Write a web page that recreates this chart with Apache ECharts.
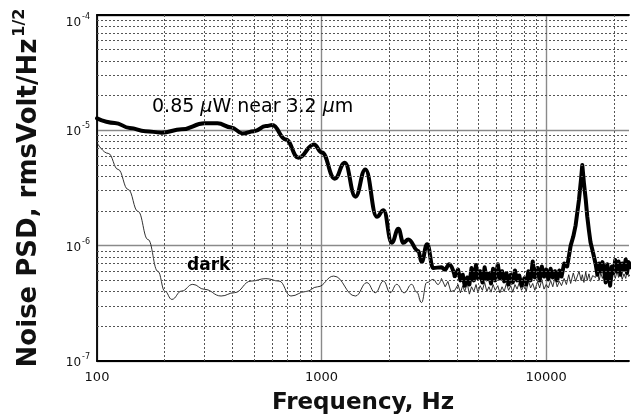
<!DOCTYPE html>
<html><head><meta charset="utf-8">
<script src="https://cdn.jsdelivr.net/npm/echarts@6/dist/echarts.min.js"></script>
<style>html,body{margin:0;padding:0;background:#fff}#c{width:632px;height:420px}</style>
</head><body><div id="c"></div>
<script>
// ---- data ----
const brightFreq = [100,120,140,164,194,238,301,344,396,444,501,565,603,693,788,925,1003,1145,1268,1414,1566,1762,1887,2053,2198,2312,2432,2695,2787,2950,3141,3418,3538,3700,3917,4050,4150,4250,4336,4450,4550,4650,4760,4870,4966,5080,5200,5320,5440,5560,5680,5800,5930,6088,6220,6360,6500,6650,6800,6950,7100,7260,7420,7590,7760,7991,8150,8330,8520,8710,8900,9153,9350,9560,9780,10000,10230,10460,10700,10940,11190,11440,11700,12015,12400,12850,13200,13520,13996,14300,14476,14720,15000,15230,15500,15750,16100,16580,16900,17200,17500,17800,18057,18400,18700,19000,19260,19600,19950,20300,20680,21000,21400,21800,22200,22600,22900,23300,23780];
const brightPSD = [1.27e-5,1.16e-5,1.05e-5,9.84e-6,9.55e-6,1.02e-5,1.15e-5,1.15e-5,1.06e-5,9.4e-6,9.84e-6,1.09e-5,1.11e-5,8.34e-6,5.79e-6,7.55e-6,6.43e-6,3.81e-6,5.24e-6,2.66e-6,4.58e-6,1.78e-6,2.03e-6,1.06e-6,1.40e-6,1.06e-6,1.13e-6,9.0e-7,7.2e-7,1.03e-6,6.4e-7,6.5e-7,6.2e-7,6.9e-7,5.45e-7,6.2e-7,5.0e-7,5.6e-7,4.5e-7,5.3e-7,4.6e-7,6.4e-7,5.0e-7,6.8e-7,5.2e-7,6.0e-7,4.8e-7,6.5e-7,5.1e-7,5.7e-7,4.7e-7,6.3e-7,5.0e-7,6.9e-7,5.2e-7,6.0e-7,4.9e-7,5.8e-7,4.6e-7,5.6e-7,4.8e-7,6.1e-7,5.0e-7,5.5e-7,4.5e-7,5.2e-7,4.6e-7,6.0e-7,5.0e-7,7.3e-7,5.3e-7,6.4e-7,5.0e-7,6.6e-7,5.4e-7,6.2e-7,5.1e-7,6.3e-7,5.3e-7,6.0e-7,5.0e-7,6.1e-7,5.4e-7,7.0e-7,6.6e-7,1.0e-6,1.2e-6,1.5e-6,2.5e-6,3.8e-6,5.0e-6,3.5e-6,2.5e-6,1.8e-6,1.35e-6,1.07e-6,9.0e-7,7.0e-7,5.6e-7,7.0e-7,6.0e-7,7.2e-7,6.3e-7,4.8e-7,6.9e-7,5.5e-7,4.5e-7,6.6e-7,5.8e-7,7.5e-7,6.0e-7,7.3e-7,5.6e-7,7.0e-7,6.2e-7,7.6e-7,5.8e-7,7.2e-7,6.5e-7];

const darkFreq = [100,112.2,124.2,137.6,152.3,168.7,186.7,200.5,215.4,238,267,301,357,409,485,565,647,730,849,960,1133,1414,1591,1734,1887,2020,2160,2330,2518,2650,2787,2934,3141,3300,3418,3550,3650,3760,3917,4050,4150,4250,4336,4450,4550,4650,4760,4870,4966,5080,5200,5320,5440,5560,5680,5800,5930,6088,6220,6360,6500,6650,6800,6950,7100,7260,7420,7590,7760,7991,8150,8330,8520,8710,8900,9153,9350,9560,9780,10000,10230,10460,10700,10940,11190,11440,11700,12015,12300,12600,12850,13200,13520,13996,14300,14476,14720,15000,15230,15500,15750,16100,16580,16900,17200,17500,17800,18057,18400,18700,19000,19260,19600,19950,20300,20680,21000,21400,21800,22200,22600,22900,23300,23780];
const darkPSD = [7.8e-6,6.31e-6,4.58e-6,3.07e-6,1.98e-6,1.13e-6,5.99e-7,4.02e-7,3.42e-7,4.04e-7,4.62e-7,4.18e-7,3.66e-7,3.91e-7,4.93e-7,5.18e-7,4.93e-7,3.66e-7,4.0e-7,4.4e-7,5.45e-7,3.66e-7,4.78e-7,3.91e-7,4.93e-7,3.91e-7,4.62e-7,3.9e-7,4.62e-7,3.96e-7,3.21e-7,4.78e-7,5.1e-7,4.6e-7,5.2e-7,4.4e-7,4.9e-7,4.0e-7,4.1e-7,4.6e-7,3.9e-7,4.5e-7,4.0e-7,4.7e-7,3.8e-7,4.4e-7,4.0e-7,4.6e-7,3.9e-7,4.5e-7,4.1e-7,4.8e-7,4.0e-7,4.4e-7,3.95e-7,4.6e-7,4.1e-7,4.5e-7,3.9e-7,4.4e-7,4.0e-7,4.7e-7,4.1e-7,4.5e-7,3.95e-7,4.6e-7,4.2e-7,4.8e-7,4.1e-7,4.6e-7,4.0e-7,5.0e-7,4.3e-7,4.7e-7,4.1e-7,4.9e-7,4.3e-7,5.1e-7,4.2e-7,4.6e-7,4.3e-7,5.0e-7,4.4e-7,5.3e-7,4.4e-7,4.9e-7,4.5e-7,5.2e-7,4.6e-7,5.6e-7,4.7e-7,5.8e-7,4.9e-7,6.0e-7,5.0e-7,5.6e-7,4.8e-7,5.9e-7,5.0e-7,5.7e-7,4.9e-7,5.5e-7,5.3e-7,6.0e-7,5.0e-7,5.8e-7,5.2e-7,5.7e-7,4.9e-7,5.9e-7,5.1e-7,5.5e-7,4.9e-7,5.8e-7,5.2e-7,6.0e-7,5.3e-7,5.9e-7,5.1e-7,5.7e-7,5.2e-7,6.0e-7,5.4e-7,5.7e-7];

const xTickLabels = ['100', '1000', '10000'];
const yTickExponents = [-7, -6, -5, -4];
const xAxisTitle = 'Frequency, Hz';
const yAxisTitle = 'Noise PSD, rmsVolt/Hz';
const yAxisTitleSup = '1/2';
const brightLabel = ['0.85 ', 'μ', 'W near 3.2 ', 'μ', 'm'];
const darkLabel = 'dark';

// ---- chart ----
const FF = 'DejaVu Sans';
const xMin = 100, xMax = 23370, yMin = 1e-7, yMax = 1e-4;
const zip = (a, b) => a.map((v, i) => [v, b[i]]);
const bright = zip(brightFreq, brightPSD);
const dark = zip(darkFreq, darkPSD);
const brightSplit = 3917, darkSplit = 3418;

const minorX = [];
for (let d = 100; d <= 10000; d *= 10) for (let k = 2; k <= 9; k++) if (d * k < xMax) minorX.push(d * k);
const minorY = [];
for (let e = -7; e <= -5; e++) for (let k = 2; k <= 9; k++) minorY.push(k * Math.pow(10, e));
const gridLines = minorX.map(v => ({xAxis: v}))
  .concat(minorY.map(v => [{coord: [xMin, v]}, {coord: [xMax, v]}]));

const thinStyle = {color: '#1a1a1a', width: 0.9};
const thickStyle = {color: '#000', width: 4, join: 'round', cap: 'round'};
const axisLineStyle = {show: true, lineStyle: {color: '#000', width: 1.8}};

const chart = echarts.init(document.getElementById('c'), null, {renderer: 'canvas'});
chart.setOption({
  animation: false,
  backgroundColor: '#fff',
  grid: {left: 97, top: 15, right: 0, bottom: 58, show: false},
  xAxis: [{
    type: 'log', logBase: 10, min: xMin, max: xMax,
    name: xAxisTitle, nameLocation: 'middle', nameGap: 31,
    nameTextStyle: {fontFamily: FF, fontSize: 23, fontWeight: 'bold', color: '#111'},
    axisLine: axisLineStyle,
    axisTick: {show: false},
    axisLabel: {
      margin: 10, color: '#111', fontFamily: FF, fontSize: 13,
      formatter: v => { const s = String(Math.round(v)); return xTickLabels.indexOf(s) >= 0 ? s : ''; }
    },
    splitLine: {show: true, showMaxLine: false, lineStyle: {color: '#8a8a8a', width: 1.4}}
  }, {
    type: 'log', logBase: 10, min: xMin, max: xMax, position: 'top',
    axisLine: axisLineStyle, axisTick: {show: false}, axisLabel: {show: false}, splitLine: {show: false}
  }],
  yAxis: {
    type: 'log', logBase: 10, min: yMin, max: yMax,
    name: yAxisTitle + '{s|' + yAxisTitleSup + '}', nameLocation: 'middle', nameGap: 50, nameRotate: 90,
    nameTextStyle: {fontFamily: FF, fontSize: 26, fontWeight: 'bold', color: '#111',
      rich: {s: {fontFamily: FF, fontSize: 16, fontWeight: 'bold', color: '#111', padding: [0, 0, 19, 2], verticalAlign: 'bottom'}}},
    axisLine: axisLineStyle,
    axisTick: {show: false},
    axisLabel: {
      margin: 7,
      formatter: v => {
        const e = Math.round(Math.log10(v));
        if (yTickExponents.indexOf(e) < 0) return '';
        return e === yTickExponents[yTickExponents.length - 1] ? '{bt|10}{st|' + e + '}' : '{b|10}{s|' + e + '}';
      },
      rich: {
        b: {fontFamily: FF, fontSize: 12, color: '#111', verticalAlign: 'bottom'},
        s: {fontFamily: FF, fontSize: 8, color: '#111', padding: [0, 0, 8, 1], verticalAlign: 'bottom'},
        bt: {fontFamily: FF, fontSize: 12, color: '#111', verticalAlign: 'bottom', padding: [12, 0, 0, 0]},
        st: {fontFamily: FF, fontSize: 8, color: '#111', padding: [12, 0, 8, 1], verticalAlign: 'bottom'}
      }
    },
    splitLine: {show: true, lineStyle: {color: '#8a8a8a', width: 1.4}}
  },
  series: [
    {
      type: 'line', name: darkLabel, data: dark.filter(p => p[0] <= darkSplit),
      showSymbol: false, smooth: 0.45, smoothMonotone: 'x', lineStyle: thinStyle, z: 3,
      markLine: {
        silent: true, symbol: 'none', animation: false, label: {show: false},
        lineStyle: {color: '#555', type: [2, 2], width: 1},
        emphasis: {disabled: true},
        data: gridLines
      }
    },
    {
      type: 'line', name: darkLabel + ' noise', data: dark.filter(p => p[0] >= darkSplit),
      showSymbol: false, smooth: false, lineStyle: thinStyle, z: 3
    },
    {
      type: 'line', name: 'bright', data: bright.filter(p => p[0] <= brightSplit),
      showSymbol: false, smooth: 0.45, smoothMonotone: 'x', lineStyle: thickStyle, z: 4
    },
    {
      type: 'line', name: 'bright noise', data: bright.filter(p => p[0] >= brightSplit),
      showSymbol: false, smooth: false, lineStyle: thickStyle, z: 4
    }
  ],
  graphic: [
    {type: 'text', x: 152, y: 107, z: 10, style: {
      text: '{n|' + brightLabel[0] + '}{i|' + brightLabel[1] + '}{n|' + brightLabel[2] + '}{i|' + brightLabel[3] + '}{n|' + brightLabel[4] + '}',
      rich: {n: {fontFamily: FF, fontSize: 19, fill: '#000'}, i: {fontFamily: FF, fontSize: 19, fontStyle: 'italic', fill: '#000'}},
      verticalAlign: 'middle'}},
    {type: 'text', x: 187, y: 266, z: 10, style: {text: darkLabel, fontFamily: FF, fontSize: 17, fontWeight: 'bold', fill: '#000', verticalAlign: 'middle'}}
  ]
});
</script>
</body></html>
